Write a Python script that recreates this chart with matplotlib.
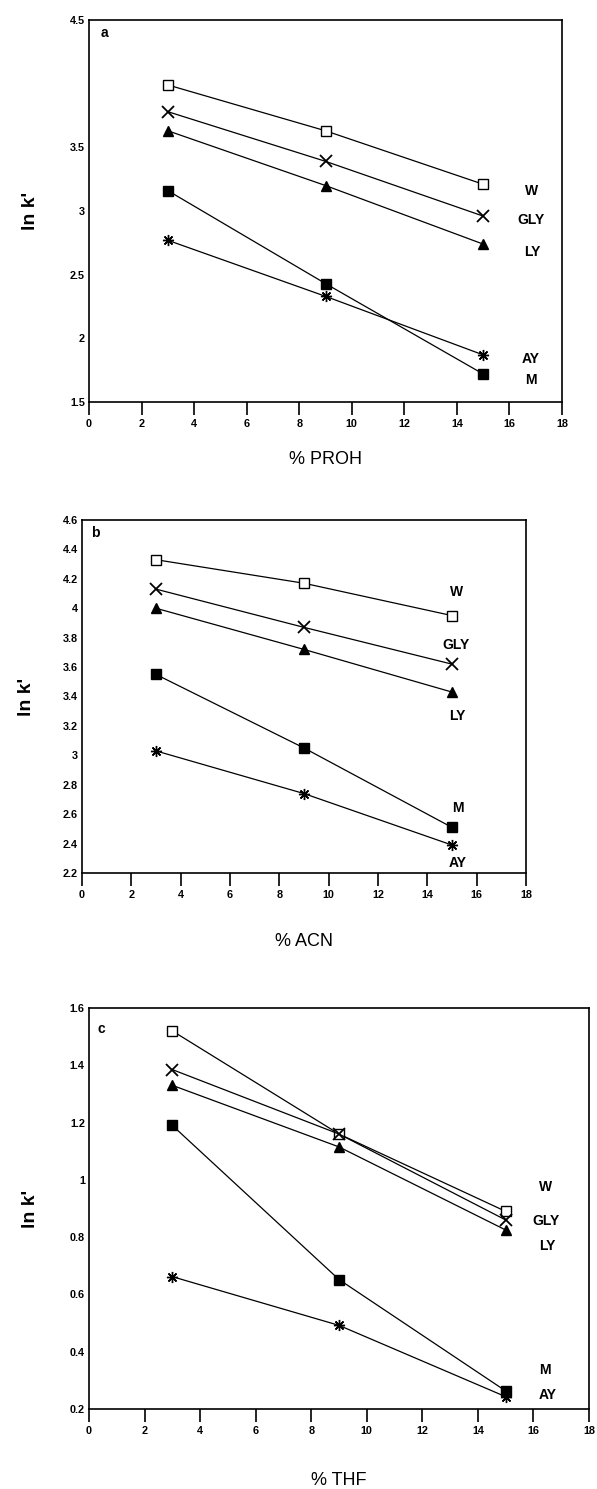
import matplotlib
matplotlib.use("Agg")
import matplotlib.pyplot as plt
from matplotlib.ticker import FormatStrFormatter

plt.rcParams['font.family'] = ['Liberation Sans', 'DejaVu Sans']

x = [3, 9, 15]
series = ['W', 'GLY', 'LY', 'M', 'AY']

# Panel a: % PROH
a_W = [3.99, 3.63, 3.21]
a_GLY = [3.78, 3.39, 2.96]
a_LY = [3.63, 3.20, 2.74]
a_M = [3.16, 2.43, 1.72]
a_AY = [2.77, 2.33, 1.87]

# Panel b: % ACN
b_W = [4.33, 4.17, 3.95]
b_GLY = [4.13, 3.87, 3.62]
b_LY = [4.00, 3.72, 3.43]
b_M = [3.55, 3.05, 2.51]
b_AY = [3.03, 2.74, 2.39]

# Panel c: % THF
c_W = [1.52, 1.16, 0.89]
c_GLY = [1.385, 1.16, 0.86]
c_LY = [1.33, 1.115, 0.825]
c_M = [1.19, 0.652, 0.263]
c_AY = [0.662, 0.492, 0.243]

# label positions (x, y) per panel
a_lab = {'W': (16.6, 3.16), 'GLY': (16.3, 2.93), 'LY': (16.55, 2.68), 'AY': (16.45, 1.84), 'M': (16.6, 1.67)}
b_lab = {'W': (14.9, 4.11), 'GLY': (14.6, 3.75), 'LY': (14.9, 3.27), 'M': (15.0, 2.64), 'AY': (14.85, 2.27)}
c_lab = {'W': (16.2, 0.975), 'GLY': (15.95, 0.855), 'LY': (16.2, 0.77), 'M': (16.2, 0.335), 'AY': (16.2, 0.25)}

a_yticks = [1.5, 2, 2.5, 3, 3.5, 4.5]
b_yticks = [2.2, 2.4, 2.6, 2.8, 3, 3.2, 3.4, 3.6, 3.8, 4, 4.2, 4.4, 4.6]
c_yticks = [0.2, 0.4, 0.6, 0.8, 1, 1.2, 1.4, 1.6]
xticks = [0, 2, 4, 6, 8, 10, 12, 14, 16, 18]

styles = {
    'W': dict(marker='s', markerfacecolor='white', markeredgecolor='black', markersize=7, markeredgewidth=1.0),
    'GLY': dict(marker='x', markersize=8, markeredgewidth=1.3),
    'LY': dict(marker='^', markersize=7),
    'M': dict(marker='s', markersize=7),
    'AY': dict(marker=(8, 2, 0), markersize=8, markeredgewidth=1.0),
}

W, H = 597, 1489
fig = plt.figure(figsize=(W / 100, H / 100), dpi=100)

def rect(l, r, t, b):
    return [l / W, 1 - b / H, (r - l) / W, (b - t) / H]

panels = [
    (rect(89, 562, 20, 402), 'a', [a_W, a_GLY, a_LY, a_M, a_AY], a_lab, a_yticks, (1.5, 4.5), '% PROH', (0.025, 0.965)),
    (rect(82, 526, 520, 873), 'b', [b_W, b_GLY, b_LY, b_M, b_AY], b_lab, b_yticks, (2.2, 4.6), '% ACN', (0.02, 0.962)),
    (rect(89, 589, 1008, 1409), 'c', [c_W, c_GLY, c_LY, c_M, c_AY], c_lab, c_yticks, (0.2, 1.6), '% THF', (0.018, 0.948)),
]

xlabel_pads = [16, 24, 26]
ylabel_pads = [22, 20, 22]
for (pos, tag, data, labs, yt, ylim, xl, tagpos), xpad, ypad in zip(panels, xlabel_pads, ylabel_pads):
    ax = fig.add_axes(pos)
    for name, ys in zip(series, data):
        ax.plot(x, ys, color='black', linewidth=0.9, **styles[name])
        lx, ly = labs[name]
        ax.text(lx, ly, name, fontsize=10, fontweight='bold', ha='left', va='center')
    ax.set_xlim(0, 18)
    ax.set_ylim(*ylim)
    ax.set_xticks(xticks)
    ax.set_yticks(yt)
    ax.yaxis.set_major_formatter(FormatStrFormatter('%g'))
    ax.tick_params(axis='x', direction='out', length=9, width=1.2, labelsize=7.8, pad=3)
    ax.tick_params(axis='y', length=0, labelsize=7.8, pad=3)
    for lbl in ax.get_xticklabels() + ax.get_yticklabels():
        lbl.set_fontweight('bold')
    for sp in ax.spines.values():
        sp.set_linewidth(1.2)
    ax.text(tagpos[0], tagpos[1], tag, transform=ax.transAxes, fontsize=10, fontweight='bold', ha='left', va='center')
    ax.set_xlabel(xl, fontsize=13, labelpad=xpad)
    ax.set_ylabel("ln k'", fontsize=14, fontweight='bold', labelpad=ypad)

fig.savefig('out.png', dpi=100)
